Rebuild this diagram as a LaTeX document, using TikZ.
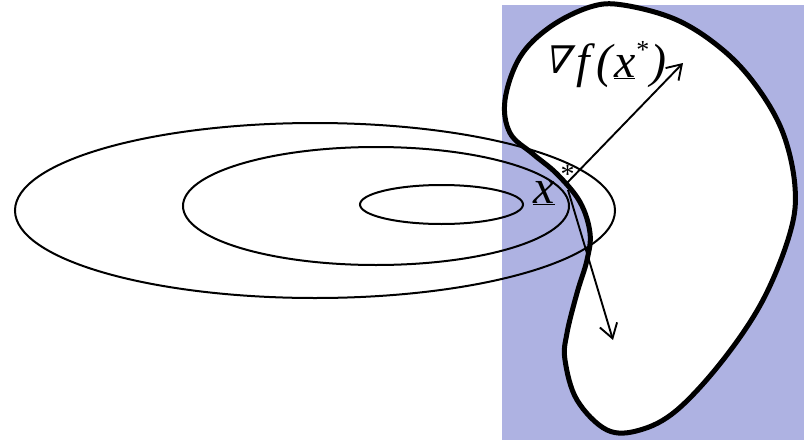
\documentclass[tikz,border=0pt]{standalone}
\usepackage{fontspec}
\setmainfont{Liberation Serif}
\newfontfamily\timesfont{Liberation Serif}
\newfontfamily\nablafont{DejaVu Serif}[FakeSlant=0.3]
\usetikzlibrary{arrows.meta}
\definecolor{regionblue}{RGB}{174,178,226}
\tikzset{
  contour/.style={line width=2pt},
  boundary/.style={line width=5pt, fill=white, line join=round},
  vec/.style={line width=1.9pt, -{Straight Barb[length=14pt,width=18pt,line width=1.9pt]}},
  lbl/.style={inner sep=0pt, font=\timesfont\fontsize{48}{56}\selectfont\itshape}
}
\begin{document}
\begin{tikzpicture}[x=1pt,y=-1pt]
\useasboundingbox (0,0) rectangle (812,442);
% feasible region background
\fill[regionblue] (502,5) rectangle (804,440);
% kidney-shaped boundary
\draw[boundary] plot[smooth cycle, tension=0.6] coordinates {
  (590,7) (623,5) (677,20) (723,50) (757,87) (783,133) (795,187) (790,233)
  (763,300) (723,360) (677,410) (640,430) (607,430) (577,400) (565,360)
  (567,333) (577,293) (587,260) (590,233) (580,202) (557,174) (533,154)
  (510,133) (505,100) (520,57) (550,27)};
% level sets
\draw[contour] (315,210.5) ellipse [x radius=300pt, y radius=87.5pt];
\draw[contour] (376,206) ellipse [x radius=193pt, y radius=59pt];
\draw[contour] (441.5,204.5) ellipse [x radius=81.5pt, y radius=19.5pt];
% vectors
\coordinate (xs) at (566,184);
\coordinate (xs2) at (568,190);
\coordinate (gtip) at (683,63);
\coordinate (dtip) at (613,340);
\draw[vec] (xs) -- (gtip);
\draw[vec] (xs2) -- (dtip);
% labels
\node[lbl, anchor=base west] (xlab) at (533,203) {\underline{x}\kern6pt\raisebox{0.4em}{\fontsize{28}{28}\selectfont\upshape *}};
\node[lbl, anchor=base west] (glab) at (542,77) {\raisebox{4pt}{\fontsize{38}{42}\selectfont\nablafont ∇}\kern8pt f\kern6pt(\kern2pt\underline{x}\kern1pt\raisebox{0.38em}{\fontsize{26}{26}\selectfont\upshape *}\kern1pt)};
\end{tikzpicture}
\end{document}
